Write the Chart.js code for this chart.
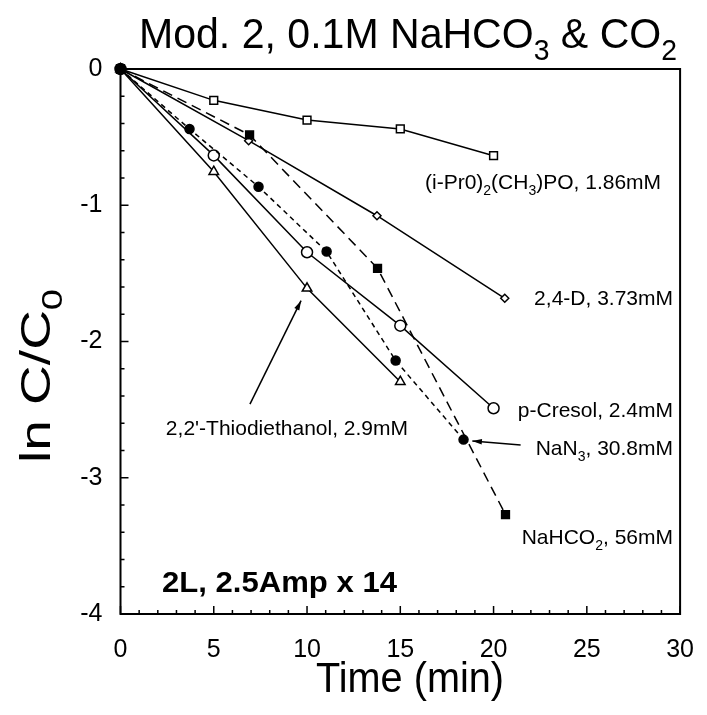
<!DOCTYPE html>
<html>
<head>
<meta charset="utf-8">
<script src="https://cdn.jsdelivr.net/npm/chart.js@4"></script>
<style>
  html, body { margin: 0; padding: 0; background: #fff; }
  #wrap { width: 707px; height: 715px; }
</style>
</head>
<body>
<div id="wrap"><canvas id="chart" width="707" height="715"></canvas></div>
<script>
// data: ln C/C0 against time (min)
const poTime = [0, 5, 10, 15, 20];
const poVals = [0, -0.23, -0.375, -0.44, -0.636];

const d24Time = [0, 6.87, 13.75, 20.6];
const d24Vals = [0, -0.526, -1.077, -1.683];

const cresolTime = [0, 5, 10, 15, 20];
const cresolVals = [0, -0.634, -1.345, -1.884, -2.49];

const thioTime = [0, 5, 10, 15];
const thioVals = [0, -0.754, -1.61, -2.295];

const nan3Time = [0, 3.7, 7.4, 11.05, 14.75, 18.39];
const nan3Vals = [0, -0.44, -0.864, -1.34, -2.14, -2.72];

const formTime = [0, 6.92, 13.78, 20.64];
const formVals = [0, -0.484, -1.463, -3.27];

const xTicks = [0, 5, 10, 15, 20, 25, 30];
const yTicks = [0, -1, -2, -3, -4];

const FONT = "'Liberation Sans', Arial, sans-serif";

// use the narrow face for the big labels if it is installed
const probe = document.createElement("canvas").getContext("2d");
probe.font = "40px 'Liberation Sans Narrow', serif";
const wNarrow = probe.measureText("Time 0123").width;
probe.font = "40px serif";
const wSerif = probe.measureText("Time 0123").width;
const hasNarrow = Math.abs(wNarrow - wSerif) > 0.5;
const BIG = hasNarrow ? "'Liberation Sans Narrow', 'Liberation Sans', sans-serif" : FONT;
const tickSize = hasNarrow ? 28 : 25;

function pts(xs, ys) {
  return xs.map((x, i) => ({ x: x, y: ys[i] }));
}

function series(xs, ys, style, filled, radius, dash) {
  return {
    data: pts(xs, ys),
    showLine: true,
    borderColor: "#000",
    borderWidth: 1.5,
    borderDash: dash || [],
    pointStyle: style,
    pointRadius: radius,
    pointBorderWidth: 1.5,
    pointBorderColor: "#000",
    pointBackgroundColor: filled ? "#000" : "#fff",
    fill: false,
    tension: 0
  };
}

// text with subscripts, parts = [[text, isSub], ...]
function drawRich(ctx, parts, x, y, size, align, fitWidth, bold, family) {
  const fam = family || FONT;
  const w = bold ? "bold " : "";
  const subSize = Math.round(size * 0.68);
  let total = 0;
  parts.forEach(p => {
    ctx.font = w + (p[1] ? subSize : size) + "px " + fam;
    total += ctx.measureText(p[0]).width;
  });
  const sx = fitWidth ? fitWidth / total : 1;
  let start = x;
  if (align === "right") start = x - total * sx;
  if (align === "center") start = x - total * sx / 2;
  ctx.save();
  ctx.translate(start, y);
  ctx.scale(sx, 1);
  ctx.fillStyle = "#000";
  ctx.textAlign = "left";
  ctx.textBaseline = "alphabetic";
  let cx = 0;
  parts.forEach(p => {
    ctx.font = w + (p[1] ? subSize : size) + "px " + fam;
    ctx.fillText(p[0], cx, p[1] ? size * 0.28 : 0);
    cx += ctx.measureText(p[0]).width;
  });
  ctx.restore();
}

function arrow(ctx, x1, y1, x2, y2) {
  const a = Math.atan2(y2 - y1, x2 - x1);
  ctx.beginPath();
  ctx.moveTo(x1, y1);
  ctx.lineTo(x2, y2);
  ctx.stroke();
  ctx.beginPath();
  ctx.moveTo(x2, y2);
  ctx.lineTo(x2 - 10 * Math.cos(a - 0.28), y2 - 10 * Math.sin(a - 0.28));
  ctx.lineTo(x2 - 10 * Math.cos(a + 0.28), y2 - 10 * Math.sin(a + 0.28));
  ctx.closePath();
  ctx.fill();
}

const decorations = {
  id: "decorations",
  afterDraw(chart) {
    const ctx = chart.ctx;
    const xs = chart.scales.x, ys = chart.scales.y;
    const a = chart.chartArea;
    ctx.save();
    ctx.strokeStyle = "#000";
    ctx.fillStyle = "#000";

    // frame
    ctx.lineWidth = 2;
    ctx.strokeRect(a.left, a.top, a.right - a.left, a.bottom - a.top);

    // inward ticks, minor every 1 min and 0.2 units
    ctx.lineWidth = 1.5;
    ctx.beginPath();
    for (let v = 0; v <= 30; v++) {
      const px = xs.getPixelForValue(v);
      const len = v % 5 === 0 ? 8 : 4;
      ctx.moveTo(px, a.bottom);
      ctx.lineTo(px, a.bottom - len);
    }
    for (let i = 0; i <= 20; i++) {
      const py = ys.getPixelForValue(-i * 0.2);
      const len = i % 5 === 0 ? 8 : 4;
      ctx.moveTo(a.left, py);
      ctx.lineTo(a.left + len, py);
    }
    ctx.stroke();

    // origin blob where all series start
    ctx.beginPath();
    ctx.arc(xs.getPixelForValue(0), ys.getPixelForValue(0), 5.5, 0, Math.PI * 2);
    ctx.fill();

    // title and axis titles
    drawRich(ctx, [["Mod. 2, 0.1M NaHCO", 0], ["3", 1], [" & CO", 0], ["2", 1]], 139, 48, 42, "left", 538, false, BIG);
    drawRich(ctx, [["Time (min)", 0]], 410, 692, 42, "center", 188, false, BIG);
    ctx.save();
    ctx.translate(50, 376);
    ctx.rotate(-Math.PI / 2);
    drawRich(ctx, [["ln C/C", 0], ["0", 1]], 0, 0, 42, "center", 174, false, BIG);
    ctx.restore();

    // series labels
    drawRich(ctx, [["(i-Pr0)", 0], ["2", 1], ["(CH", 0], ["3", 1], [")PO, 1.86mM", 0]], 425, 189, 21, "left");
    drawRich(ctx, [["2,4-D, 3.73mM", 0]], 673, 305, 21, "right");
    drawRich(ctx, [["p-Cresol, 2.4mM", 0]], 673, 417, 21, "right");
    drawRich(ctx, [["2,2'-Thiodiethanol, 2.9mM", 0]], 408, 435, 21, "right");
    drawRich(ctx, [["NaN", 0], ["3", 1], [", 30.8mM", 0]], 673, 455, 21, "right");
    drawRich(ctx, [["NaHCO", 0], ["2", 1], [", 56mM", 0]], 673, 544, 21, "right");
    drawRich(ctx, [["2L, 2.5Amp x 14", 0]], 162, 592, 30, "left", 235, true);

    // pointer arrows
    ctx.lineWidth = 1.5;
    arrow(ctx, xs.getPixelForValue(6.94), ys.getPixelForValue(-2.46),
               xs.getPixelForValue(9.68), ys.getPixelForValue(-1.70));
    arrow(ctx, xs.getPixelForValue(21.45), ys.getPixelForValue(-2.76),
               xs.getPixelForValue(18.86), ys.getPixelForValue(-2.73));
    ctx.restore();
  }
};

new Chart(document.getElementById("chart"), {
  type: "scatter",
  data: {
    // filled series first so they sit on top
    datasets: [
      series(formTime, formVals, "rect", true, 5.5, [10, 6]),
      series(nan3Time, nan3Vals, "circle", true, 4.5, [5, 4]),
      series(poTime, poVals, "rect", false, 5.5),
      series(d24Time, d24Vals, "rectRot", false, 4),
      series(cresolTime, cresolVals, "circle", false, 5.5),
      series(thioTime, thioVals, "triangle", false, 5.5)
    ]
  },
  options: {
    responsive: false,
    animation: false,
    events: [],
    clip: false,
    layout: { padding: { top: 69, right: 18, left: 0, bottom: 0 } },
    plugins: {
      legend: { display: false },
      tooltip: { enabled: false },
      title: { display: false }
    },
    scales: {
      x: {
        type: "linear",
        min: 0,
        max: 30,
        afterBuildTicks: s => { s.ticks = xTicks.map(v => ({ value: v })); },
        afterFit: s => { s.height = 101; },
        grid: { display: false },
        border: { display: false },
        ticks: { color: "#000", padding: 13, font: { family: BIG, size: tickSize } }
      },
      y: {
        type: "linear",
        min: -4,
        max: 0,
        afterBuildTicks: s => { s.ticks = yTicks.map(v => ({ value: v })); },
        afterFit: s => { s.width = 120.5; },
        grid: { display: false },
        border: { display: false },
        ticks: { color: "#000", padding: 10, font: { family: BIG, size: tickSize } }
      }
    }
  },
  plugins: [decorations]
});
</script>
</body>
</html>
